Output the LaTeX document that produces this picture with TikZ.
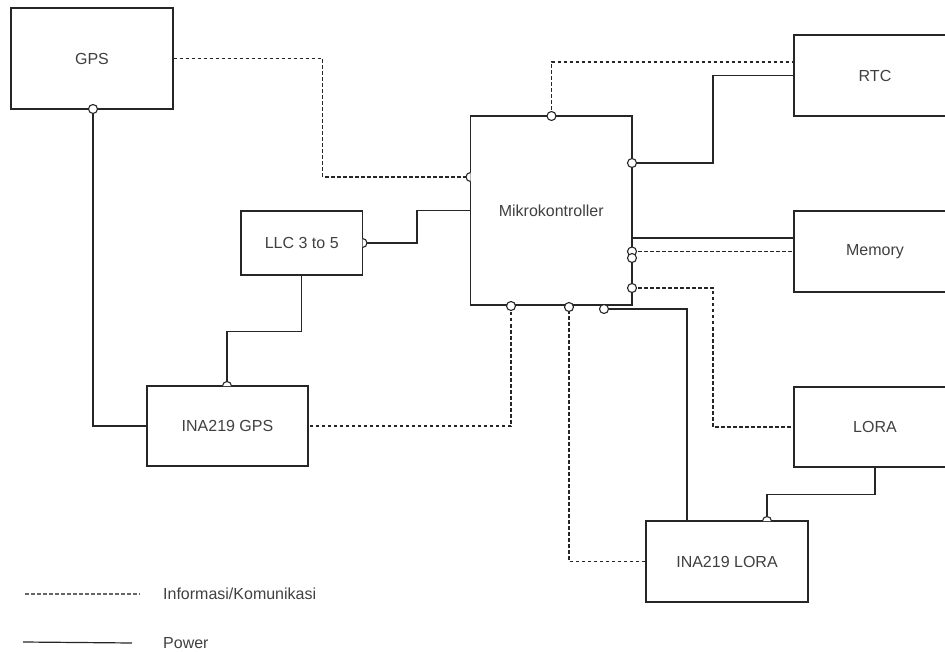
\documentclass[tikz,border=0pt]{standalone}
\usepackage{fontspec}
\setmainfont{Liberation Sans}
\tikzset{
  blok/.style={draw=black!85, line width=1.2pt, fill=white, text=black!75,
    font=\fontsize{16}{19}\selectfont, inner sep=0pt},
  legtext/.style={text=black!75, font=\fontsize{16}{19}\selectfont, inner sep=0pt},
  info/.style={draw=black!85, line width=1.1pt, dash pattern=on 3.5pt off 2.5pt},
  daya/.style={draw=black!85, line width=1.2pt},
  pin/.style={draw=black!85, line width=1.1pt, fill=white}
}
\begin{document}
\begin{tikzpicture}[x=1pt,y=-1pt]
    \useasboundingbox (0,0) rectangle (945,652);
    \clip (0,0) rectangle (945,652);
    \node[blok, minimum width=162pt, minimum height=101pt] (gps) at (92,58.5) {GPS};
    \node[blok, minimum width=161.5pt, minimum height=189pt] (mcu) at (551.25,210.5) {Mikrokontroller};
    \node[blok, minimum width=121.5pt, minimum height=64pt] (llc) at (301.75,243) {LLC 3 to 5};
    \node[blok, minimum width=161pt, minimum height=80pt] (inaG) at (227.5,426) {INA219 GPS};
    \node[blok, minimum width=162pt, minimum height=81pt] (rtc) at (875,75.5) {RTC};
    \node[blok, minimum width=162pt, minimum height=81pt] (mem) at (875,251.5) {Memory};
    \node[blok, minimum width=162pt, minimum height=80pt] (lora) at (875,427) {LORA};
    \node[blok, minimum width=162pt, minimum height=81pt] (inaL) at (727,561.5) {INA219 LORA};
    \coordinate (gpsS) at (93,109);
    \coordinate (mcuW) at (470.5,177);
    \coordinate (mcuN) at (551.5,116);
    \coordinate (mcuE1) at (632,163);
    \coordinate (mcuE0) at (632,238);
    \coordinate (mcuE2) at (632,251.5);
    \coordinate (mcuE3) at (632,258);
    \coordinate (mcuE4) at (632,288);
    \coordinate (mcuS1) at (511,306);
    \coordinate (mcuS2) at (569,307);
    \coordinate (mcuS3) at (604,309);
    \coordinate (llcE) at (362.5,243);
    \coordinate (inaGN) at (227,386);
    \coordinate (inaLN) at (767,521);
    \coordinate (inaLN2) at (687,521);
    \coordinate (rtcW1) at (794,62);
    \coordinate (memW1) at (794,238);
    \draw[info] (gps.east) -- ++(149,0) |- (mcuW);
    \draw[info] (mcuN) |- (rtcW1);
    \draw[daya] (mcuE1) -- ++(81,0) |- (rtc.west);
    \draw[daya] (mcuE0) -- (memW1);
    \draw[info] (mcuE2) -- (mem.west);
    \draw[info] (mcuE4) -- ++(81,0) |- (lora.west);
    \draw[daya] (lora.south) -- ++(0,27) -| (inaLN);
    \draw[daya] (inaLN2) |- (mcuS3);
    \draw[info] (inaL.west) -| (mcuS2);
    \draw[info] (mcuS1) |- (inaG.east);
    \draw[daya] (gpsS) |- (inaG.west);
    \draw[daya] (llc.south) -- ++(0,56) -| (inaGN);
    \draw[daya] (llcE) -- ++(54.5,0) |- (mcu.west);
    \foreach \p in {gpsS,mcuN,mcuE1,mcuE2,mcuE3,mcuE4,mcuS1,mcuS2,mcuS3}
        \draw[pin] (\p) circle (4.5pt);
    \draw[pin] (mcuW) ++(0,4.5pt) arc[start angle=90, end angle=270, radius=4.5pt];
    \draw[pin] (llcE) ++(0,4.5pt) arc[start angle=90, end angle=-90, radius=4.5pt];
    \draw[pin] (inaGN) ++(4.5pt,0) arc[start angle=0, end angle=180, radius=4.5pt];
    \draw[pin] (inaLN) ++(4.5pt,0) arc[start angle=0, end angle=180, radius=4.5pt];
    \node[legtext, anchor=west] (legInfo) at (163,594) {Informasi/Komunikasi};
    \node[legtext, anchor=west] (legPower) at (163,643) {Power};
    \coordinate (legInfoA) at (25,594);
    \coordinate (legPowerA) at (23,642);
    \draw[info, draw=black!60] (legInfoA) -- ([xshift=-23pt]legInfo.west);
    \draw[daya] (legPowerA) -- ([xshift=-31pt]legPower.west);
\end{tikzpicture}
\end{document}
